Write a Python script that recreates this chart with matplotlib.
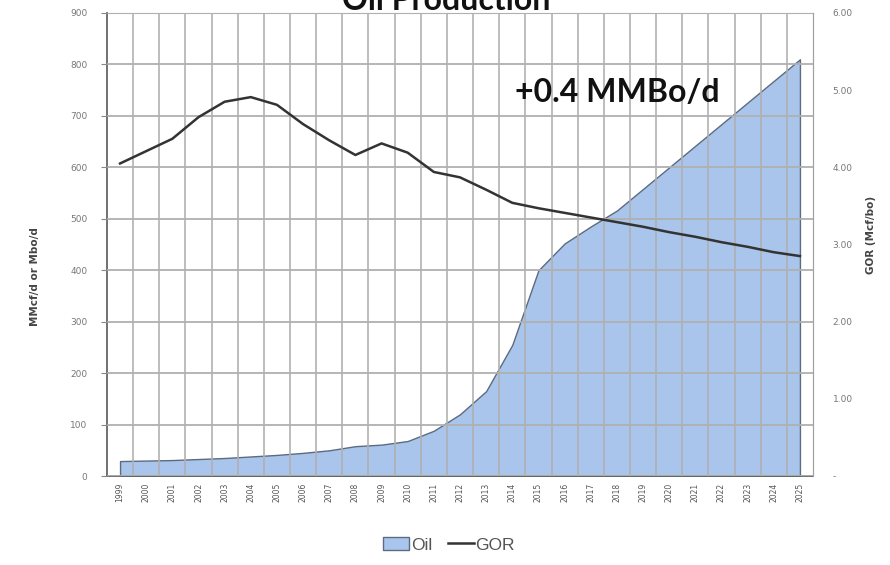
import numpy as np
import matplotlib.pyplot as plt
from matplotlib.patches import Patch
from matplotlib.lines import Line2D

years = [str(y) for y in range(1999, 2026)]

# oil production, MMcf/d or Mbo/d (left axis)
oil = [29, 30, 31, 33, 35, 38, 41, 45, 50, 58, 61, 68, 88, 120, 165, 255,
       400, 452, 485, 516, 558, 600, 642, 684, 726, 768, 810]

# gas-oil ratio, Mcf/bo (right axis)
gor = [4.05, 4.21, 4.37, 4.65, 4.85, 4.91, 4.81, 4.56, 4.35, 4.16, 4.31, 4.19,
       3.94, 3.87, 3.71, 3.54, 3.47, 3.41, 3.35, 3.29, 3.23, 3.16, 3.10, 3.03,
       2.97, 2.90, 2.85]

left_ticks = [0, 100, 200, 300, 400, 500, 600, 700, 800, 900]
right_ticks = [0, 1, 2, 3, 4, 5, 6]
right_labels = ["-", "1.00", "2.00", "3.00", "4.00", "5.00", "6.00"]

fig = plt.figure(figsize=(8.9, 5.65), dpi=100)
ax = fig.add_axes([0.1202, 0.1575, 0.7933, 0.8195])
x = np.arange(len(years))

grid_col = "#b0b0b0"
ax.fill_between(x, oil, color="#a9c5ec", edgecolor="#5d6b80", linewidth=1.0, zorder=1)
ax.set_xlim(-0.5, len(years) - 0.5)
ax.set_ylim(0, 900)
ax.set_yticks(left_ticks)
ax.set_yticklabels([str(v) for v in left_ticks], fontsize=6.5, color="#777777")
ax.set_xticks(x)
ax.set_xticklabels(years, rotation=90, fontsize=5.5, color="#555555")
ax.set_xticks(np.arange(0.5, len(years) - 1, 1), minor=True)
ax.tick_params(axis="x", which="both", length=0, pad=5)
ax.tick_params(axis="y", length=4, color="#888888", pad=10)
ax.grid(True, axis="y", color=grid_col, linewidth=1.3, zorder=2)
ax.grid(True, axis="x", which="minor", color=grid_col, linewidth=1.3, alpha=0.9, zorder=2)
ax.set_axisbelow(False)
for side in ["top", "right"]:
    ax.spines[side].set_color("#b0b0b0")
ax.spines["left"].set_color("#666666")
ax.spines["bottom"].set_color("#666666")
ax.spines["left"].set_linewidth(1.3)
ax.spines["bottom"].set_linewidth(1.3)
ax.set_ylabel("MMcf/d or Mbo/d", fontsize=7.5, fontweight="bold", color="#444444")
ax.yaxis.set_label_coords(-0.095, 0.43)

ax2 = ax.twinx()
ax2.plot(x, gor, color="#333333", linewidth=1.8, zorder=3)
ax2.set_ylim(0, 6)
ax2.set_yticks(right_ticks)
ax2.set_yticklabels(right_labels, fontsize=6.5, color="#777777")
ax2.tick_params(axis="y", length=0, pad=14)
for side in ["top", "left", "bottom"]:
    ax2.spines[side].set_visible(False)
ax2.spines["right"].set_color("#a0a0a0")
ax2.set_ylabel("GOR (Mcf/bo)", fontsize=7.5, fontweight="bold", color="#444444")
ax2.yaxis.set_label_coords(1.075, 0.52)

# annotation and title (clipped at the top, as in the source)
fig.text(617 / 890, 1 - 93 / 565, "+0.4 MMBo/d", fontsize=23, fontweight="bold",
         family="Lato", ha="center", va="center", color="#111111")
fig.text(446 / 890, 1 - 10 / 565, "Oil Production", fontsize=23, fontweight="bold",
         family="Lato", ha="center", va="baseline", color="#111111")

# legend
handles = [Patch(facecolor="#a9c5ec", edgecolor="#5d6b80", label="Oil"),
           Line2D([0], [0], color="#333333", linewidth=1.8, label="GOR")]
fig.legend(handles=handles, loc="center", bbox_to_anchor=(449 / 890, 1 - 545 / 565),
           ncol=2, frameon=False, handlelength=1.5, handletextpad=0.1,
           columnspacing=0.9, labelcolor="#555555",
           prop={"family": "Liberation Sans", "size": 12.5})

fig.savefig("out.png", dpi=100)
